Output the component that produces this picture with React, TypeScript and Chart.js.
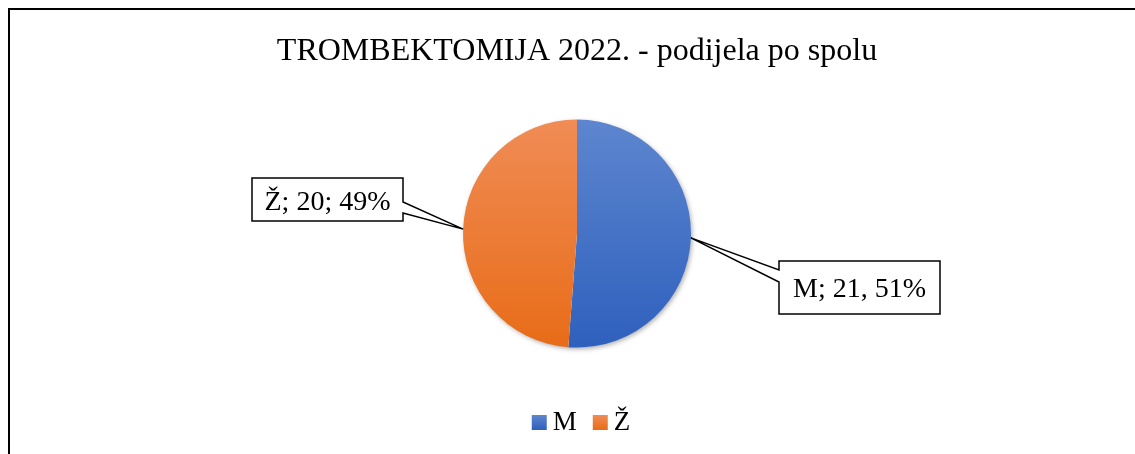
import { useEffect, useRef } from "react";
import { Chart, registerables } from "chart.js";

Chart.register(...registerables);

const titleText = "TROMBEKTOMIJA 2022. - podijela po spolu";
const categories = ["M", "Ž"];
const counts = [21, 20];
const calloutTexts = ["M; 21, 51%", "Ž; 20; 49%"];
const topColors = ["#5E86CF", "#F08C55"];
const bottomColors = ["#2E60BD", "#E86C18"];

const SERIF = '"Liberation Serif", "Times New Roman", Times, serif';
const PIE_RADIUS = 114;

// callout box layout relative to pie centre (annotation placement, not data)
const calloutLayout = [
  { left: 202, right: 363, top: 27.5, bottom: 80.5, side: "left", w1: 36.5, w2: 48.5, base: 17 },
  { left: -325, right: -174, top: -55.5, bottom: -12.5, side: "right", w1: -31.5, w2: -20.5, base: 11 },
];

function makeGradient(chart: any, i: number) {
  const area = chart.chartArea;
  if (!area) return topColors[i];
  const cy = (area.top + area.bottom) / 2;
  const g = chart.ctx.createLinearGradient(0, cy - PIE_RADIUS, 0, cy + PIE_RADIUS);
  g.addColorStop(0, topColors[i]);
  g.addColorStop(1, bottomColors[i]);
  return g;
}

const shadowPlugin = {
  id: "pieShadow",
  beforeDatasetsDraw(chart: any) {
    const meta = chart.getDatasetMeta(0);
    const arc = meta.data[0];
    if (!arc) return;
    const ctx = chart.ctx;
    ctx.save();
    ctx.beginPath();
    ctx.arc(arc.x, arc.y, arc.outerRadius - 0.5, 0, Math.PI * 2);
    ctx.shadowColor = "rgba(0,0,0,0.35)";
    ctx.shadowBlur = 5;
    ctx.shadowOffsetX = 1.5;
    ctx.shadowOffsetY = 2;
    ctx.fillStyle = "#ffffff";
    ctx.fill();
    ctx.restore();
  },
};

const calloutPlugin = {
  id: "callouts",
  afterDatasetsDraw(chart: any) {
    const meta = chart.getDatasetMeta(0);
    const ctx = chart.ctx;
    meta.data.forEach((arc: any, i: number) => {
      const L = calloutLayout[i];
      if (!L) return;
      const cx = arc.x;
      const cy = arc.y;
      const mid = (arc.startAngle + arc.endAngle) / 2;
      const ax = cx + Math.cos(mid) * arc.outerRadius;
      const ay = cy + Math.sin(mid) * arc.outerRadius;
      const l = cx + L.left, r = cx + L.right, t = cy + L.top, b = cy + L.bottom;
      ctx.save();
      ctx.beginPath();
      if (L.side === "right") {
        ctx.moveTo(l, t);
        ctx.lineTo(r, t);
        ctx.lineTo(r, cy + L.w1);
        ctx.lineTo(ax, ay);
        ctx.lineTo(r, cy + L.w2);
        ctx.lineTo(r, b);
        ctx.lineTo(l, b);
        ctx.closePath();
      } else {
        ctx.moveTo(l, t);
        ctx.lineTo(r, t);
        ctx.lineTo(r, b);
        ctx.lineTo(l, b);
        ctx.lineTo(l, cy + L.w2);
        ctx.lineTo(ax, ay);
        ctx.lineTo(l, cy + L.w1);
        ctx.closePath();
      }
      ctx.fillStyle = "#ffffff";
      ctx.fill();
      ctx.lineWidth = 1.5;
      ctx.strokeStyle = "#000000";
      ctx.lineJoin = "miter";
      ctx.stroke();
      ctx.fillStyle = "#000000";
      ctx.font = `28px ${SERIF}`;
      ctx.textAlign = "center";
      ctx.textBaseline = "alphabetic";
      ctx.fillText(calloutTexts[i], (l + r) / 2, b - L.base);
      ctx.restore();
    });
  },
};

const legendPlugin = {
  id: "customLegend",
  afterDraw(chart: any) {
    const ctx = chart.ctx;
    const area = chart.chartArea;
    const labels: string[] = chart.data.labels;
    const box = 15;
    const gap = 6;
    const itemGap = 16;
    ctx.save();
    ctx.font = `27px ${SERIF}`;
    const widths = labels.map((t) => box + gap + ctx.measureText(t).width);
    const total = widths.reduce((a, w) => a + w, 0) + itemGap * (labels.length - 1);
    let x = (area.left + area.right) / 2 + 4 - total / 2;
    const boxTop = chart.height - 39;
    labels.forEach((t, i) => {
      const g = ctx.createLinearGradient(0, boxTop, 0, boxTop + box);
      g.addColorStop(0, topColors[i]);
      g.addColorStop(1, bottomColors[i]);
      ctx.fillStyle = g;
      ctx.fillRect(x, boxTop, box, box);
      ctx.fillStyle = "#000000";
      ctx.textAlign = "left";
      ctx.textBaseline = "alphabetic";
      ctx.fillText(t, x + box + gap, boxTop + box);
      x += widths[i] + itemGap;
    });
    ctx.restore();
  },
};

export default function App() {
  const ref = useRef<HTMLCanvasElement | null>(null);

  useEffect(() => {
    if (!ref.current) return;
    const chart = new Chart(ref.current, {
      type: "pie",
      data: {
        labels: categories,
        datasets: [
          {
            data: counts,
            backgroundColor: (c: any) => makeGradient(c.chart, c.dataIndex),
            borderWidth: 0,
          },
        ],
      },
      options: {
        responsive: false,
        animation: false,
        events: [],
        radius: PIE_RADIUS,
        layout: { padding: { top: 0, bottom: 58.4, left: 0, right: 0 } },
        plugins: {
          legend: { display: false },
          tooltip: { enabled: false },
          title: {
            display: true,
            text: titleText,
            color: "#000000",
            font: { family: SERIF, size: 32, weight: "normal" },
            padding: { top: 22, bottom: 1 },
          },
        },
      } as any,
      plugins: [shadowPlugin, calloutPlugin, legendPlugin],
    });
    return () => chart.destroy();
  }, []);

  return (
    <div
      style={{
        position: "fixed",
        left: 8,
        top: 8,
        width: 1134,
        height: 450,
        borderLeft: "2px solid #000",
        borderTop: "2px solid #000",
        background: "#fff",
        overflow: "hidden",
      }}
    >
      <canvas ref={ref} width={1134} height={444} style={{ display: "block", width: 1134, height: 444 }} />
    </div>
  );
}
